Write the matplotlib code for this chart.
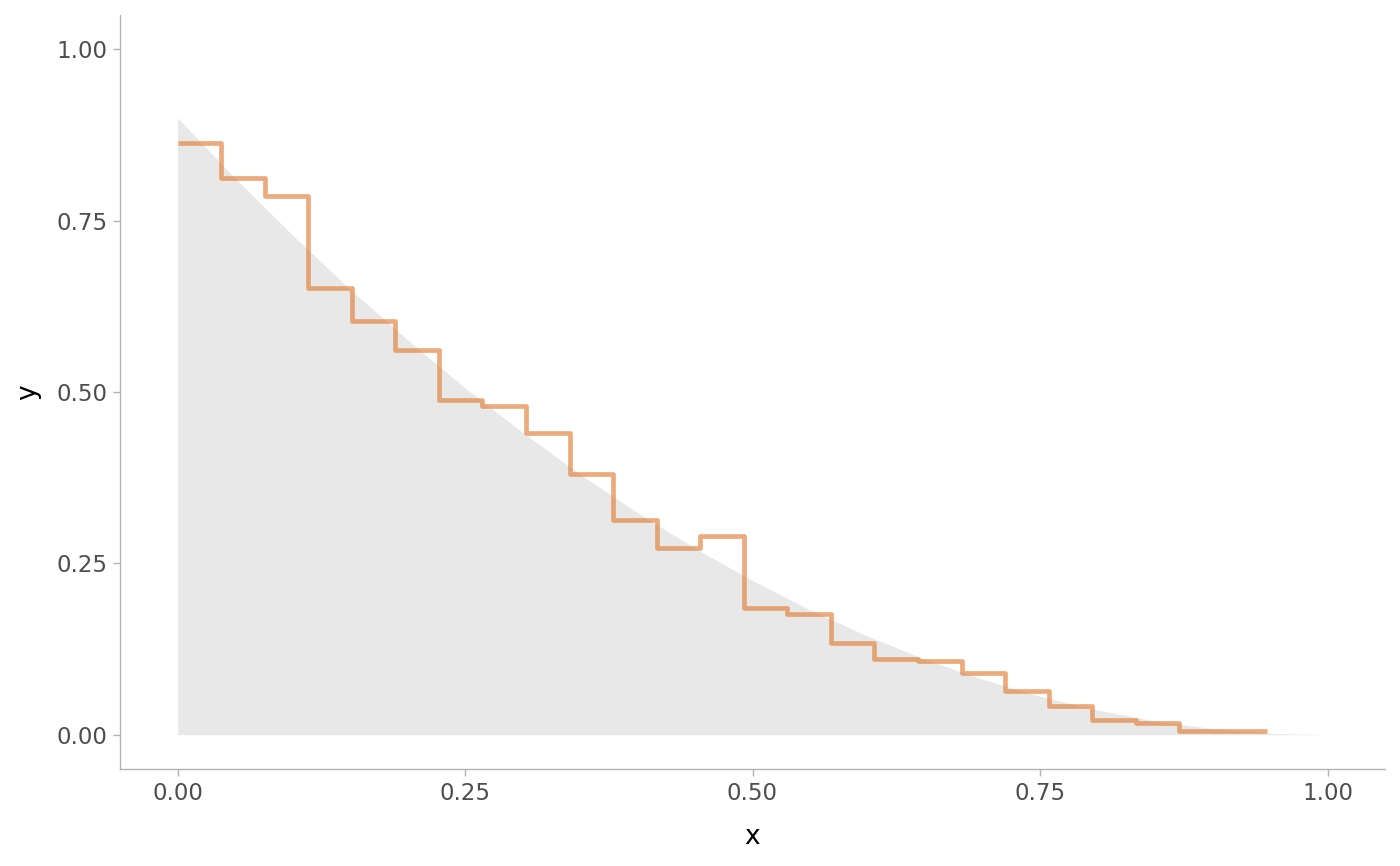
import numpy as np
import matplotlib
matplotlib.use("Agg")
import matplotlib.pyplot as plt

# histogram-like step (25 bins from 0 to ~0.947)
bin_lo = 0.0
bin_hi = 0.947
step_vals = [0.863, 0.812, 0.786, 0.652, 0.604, 0.562, 0.489, 0.479, 0.440,
             0.380, 0.313, 0.272, 0.290, 0.185, 0.176, 0.134, 0.111, 0.108,
             0.090, 0.064, 0.042, 0.022, 0.017, 0.006, 0.006]

# shaded reference density, read at x = 0, 0.05, ..., 1
curve_x = [0.00, 0.05, 0.10, 0.15, 0.20, 0.25, 0.30, 0.35, 0.40, 0.45, 0.50,
           0.55, 0.60, 0.65, 0.70, 0.75, 0.80, 0.85, 0.90, 0.95, 1.00]
curve_y = [0.900, 0.812, 0.729, 0.650, 0.576, 0.506, 0.441, 0.380, 0.324,
           0.272, 0.225, 0.182, 0.144, 0.110, 0.081, 0.056, 0.036, 0.020,
           0.009, 0.002, 0.000]

edges = np.linspace(bin_lo, bin_hi, len(step_vals) + 1)

fig = plt.figure(figsize=(14, 8.66), dpi=100)
ax = fig.add_axes([120 / 1400, 1 - 769 / 866, 1265 / 1400, 754 / 866])

ax.fill_between(curve_x, 0, curve_y, color="#e8e8e8", lw=0)
ax.stairs(step_vals, edges, color="#e2843f", alpha=0.68, lw=3.4,
          baseline=None, joinstyle="round", capstyle="butt")

ax.set_xlim(-0.05, 1.05)
ax.set_ylim(-0.05, 1.05)
ticks = [0.0, 0.25, 0.5, 0.75, 1.0]
ax.set_xticks(ticks)
ax.set_yticks(ticks)
ax.set_xticklabels([f"{t:.2f}" for t in ticks])
ax.set_yticklabels([f"{t:.2f}" for t in ticks])

for side in ["top", "right"]:
    ax.spines[side].set_visible(False)
for side in ["left", "bottom"]:
    ax.spines[side].set_color("#b3b3b3")
    ax.spines[side].set_linewidth(1)
ax.tick_params(colors="#b3b3b3", labelcolor="#4d4d4d", labelsize=16.5,
               length=5, width=1, pad=4)

ax.set_xlabel("x", fontsize=19, labelpad=14)
ax.set_ylabel("y", fontsize=19, labelpad=11)

fig.savefig("out.png", dpi=100)
